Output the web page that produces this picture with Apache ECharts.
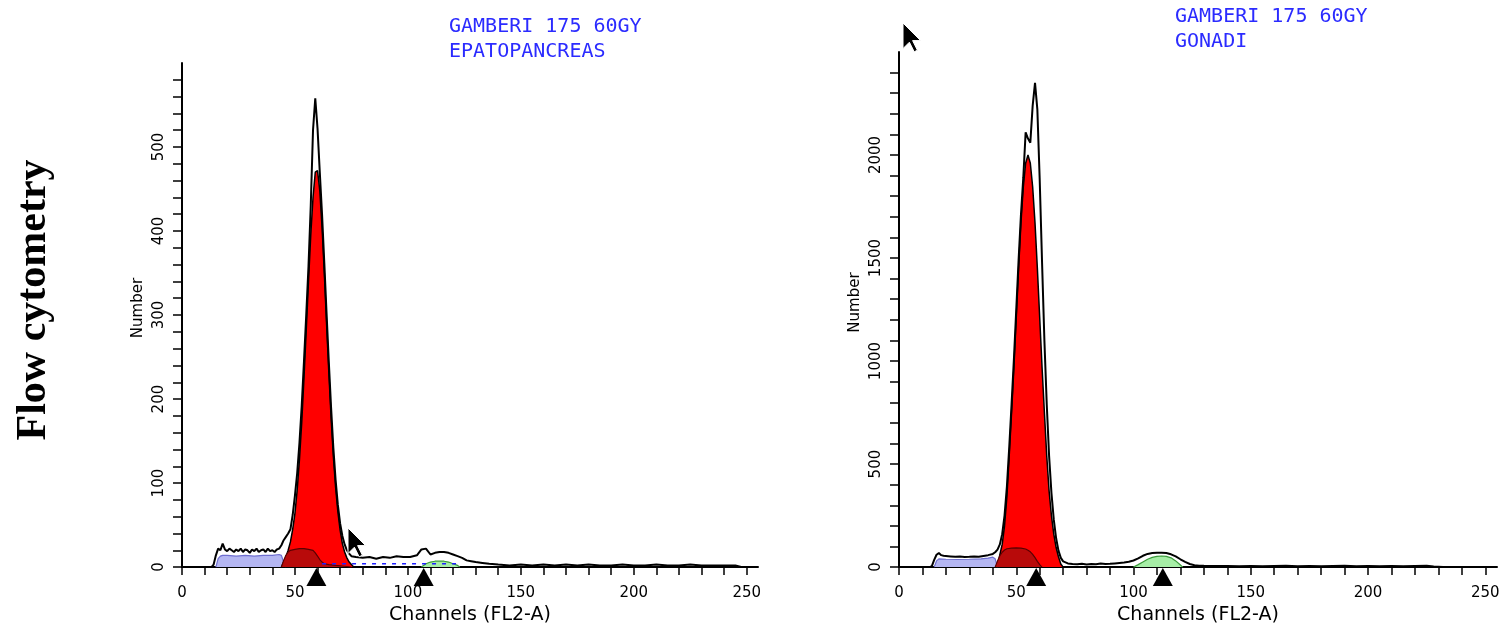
<!DOCTYPE html>
<html>
<head>
<meta charset="utf-8">
<script src="https://cdn.jsdelivr.net/npm/echarts@6/dist/echarts.min.js"></script>
<style>
html,body{margin:0;padding:0;background:#fff;}
#chart{width:1505px;height:630px;}
</style>
</head>
<body>
<div id="chart"></div>
<script>
// ---------- DATA ----------
var xTickValues = [0, 50, 100, 150, 200, 250];
var leftYTicks = [0, 100, 200, 300, 400, 500];
var rightYTicks = [0, 500, 1000, 1500, 2000];

var leftTitle = 'GAMBERI 175 60GY\nEPATOPANCREAS';
var rightTitle = 'GAMBERI 175 60GY\nGONADI';

// Left panel (EPATOPANCREAS): [channel, count]
var leftRaw = [[13,0],[14,3],[15,14],[16,22],[17,20],[18,28],[19,21],[20,19],[21,22],[22,20],[23,18],[24,21],[25,19],[26,22],[27,18],[28,21],[29,20],[30,17],[31,21],[32,19],[33,22],[34,18],[35,20],[36,21],[37,18],[38,22],[39,19],[40,20],[41,18],[42,21],[43,22],[44,26],[45,32],[46,36],[47,40],[48,45],[49,62],[50,85],[51,112],[52,148],[53,192],[54,245],[55,300],[56,358],[57,430],[58,520],[59,558],[60,522],[61,470],[62,420],[63,362],[64,302],[65,244],[66,190],[67,142],[68,104],[69,74],[70,52],[71,37],[72,27],[73,20],[74,16],[75,13],[77,12],[80,11],[83,12],[86,10],[89,12],[92,11],[95,13],[98,12],[101,12],[104,14],[106,21],[108,22],[110,15],[112,17],[114,18],[116,18],[118,17],[120,15],[122,13],[124,11],[126,8],[128,7],[130,6],[133,5],[136,4],[140,3],[145,2],[150,3],[155,2],[160,3],[165,2],[170,3],[175,2],[180,3],[185,2],[190,2],[195,3],[200,2],[205,2],[210,3],[215,2],[220,2],[225,3],[230,2],[235,2],[240,2],[245,2],[248,0]];
var leftG1 = [[44,0],[45,6],[46,12],[47,20],[48,30],[49,45],[50,64],[51,92],[52,128],[53,172],[54,225],[55,282],[56,340],[57,395],[58,440],[59,470],[60,472],[61,448],[62,405],[63,350],[64,290],[65,232],[66,178],[67,132],[68,95],[69,66],[70,44],[71,28],[72,18],[73,11],[74,6],[75,3],[76,0]];
var leftDarkRed = [[44,0],[45,8],[46,14],[47,18],[48,20],[50,21],[52,22],[54,22],[56,21],[58,20],[59,17],[60,13],[61,9],[62,6],[63,4],[65,3],[68,2],[72,1],[75,0]];
var leftDebris = [[15,0],[16,10],[17,13],[18,14],[20,14],[24,13],[28,14],[32,13],[36,14],[40,14],[43,15],[44,14],[45,6],[46,0]];
var leftG2 = [[106,0],[108,4],[110,6],[112,7],[114,7],[116,7],[118,6],[120,4],[122,2],[123,0]];
var leftS = [[62,4],[122,4]];
var leftMarkers = [59.5, 107];

// Right panel (GONADI): [channel, count]
var rightRaw = [[13,0],[14,5],[15,35],[16,60],[17,68],[18,58],[19,55],[20,54],[22,52],[24,50],[26,51],[28,49],[30,50],[32,52],[34,50],[36,54],[38,58],[40,64],[41,72],[42,85],[43,110],[44,160],[45,250],[46,390],[47,580],[48,790],[49,1010],[50,1250],[51,1490],[52,1710],[53,1890],[54,2110],[55,2080],[56,2060],[57,2240],[58,2350],[59,2220],[60,1880],[61,1480],[62,1100],[63,790],[64,540],[65,360],[66,230],[67,140],[68,80],[69,45],[70,28],[72,18],[74,15],[76,14],[78,16],[80,13],[82,15],[84,14],[86,17],[88,15],[90,16],[92,18],[94,20],[96,22],[98,26],[100,32],[102,42],[104,55],[106,64],[108,68],[110,70],[112,70],[114,68],[116,62],[118,52],[120,38],[122,25],[124,15],[126,9],[128,7],[130,6],[135,5],[140,5],[145,4],[150,5],[155,4],[160,5],[165,6],[170,4],[175,5],[180,4],[185,5],[190,6],[195,4],[200,5],[205,4],[210,5],[215,4],[220,5],[225,6],[228,3],[232,0]];
var rightG1 = [[42,0],[43,60],[44,110],[45,200],[46,340],[47,540],[48,750],[49,970],[50,1210],[51,1450],[52,1670],[53,1845],[54,1960],[55,2000],[56,1960],[57,1845],[58,1670],[59,1450],[60,1210],[61,970],[62,750],[63,540],[64,370],[65,250],[66,160],[67,95],[68,50],[69,15],[70,0]];
var rightDarkRed = [[41,0],[42,30],[43,55],[44,72],[45,83],[46,89],[48,92],[50,93],[52,92],[54,88],[55,82],[56,74],[57,62],[58,46],[59,28],[60,12],[61,0]];
var rightDebris = [[15,0],[16,30],[17,40],[20,38],[25,37],[30,38],[35,40],[38,44],[40,48],[41,40],[42,0]];
var rightG2 = [[100,0],[102,12],[104,25],[106,38],[108,47],[110,52],[112,54],[114,52],[116,45],[118,30],[120,10],[121,0]];
var rightMarkers = [58.5, 112.5];

// ---------- CHART ----------
var chart = echarts.init(document.getElementById('chart'), null, {renderer: 'canvas'});
var FONT = 'DejaVu Sans';
var BLACK = '#000';
function plain(v) { return String(v); }

function xAxisCfg(gi) {
  return {
    type: 'value', gridIndex: gi, min: 0, max: 255, interval: 50,
    name: 'Channels (FL2-A)', nameLocation: 'middle', nameGap: 31,
    nameTextStyle: {fontFamily: FONT, fontSize: 19, color: BLACK},
    axisLine: {show: true, onZero: false, lineStyle: {color: BLACK, width: 2}},
    axisTick: {show: true, inside: false, length: 8, customValues: xTickValues, lineStyle: {color: BLACK, width: 1.5}},
    minorTick: {show: true, splitNumber: 5, length: 8, lineStyle: {color: BLACK, width: 1.5}},
    axisLabel: {show: true, customValues: xTickValues, margin: 19, fontFamily: FONT, fontSize: 15, color: BLACK, formatter: plain},
    splitLine: {show: false}, minorSplitLine: {show: false}
  };
}
function yAxisCfg(gi, max, interval, ticks) {
  return {
    type: 'value', gridIndex: gi, min: 0, max: max, interval: interval,
    name: 'Number', nameLocation: 'middle', nameGap: 36, nameRotate: 90,
    nameTextStyle: {fontFamily: FONT, fontSize: 15, color: BLACK, padding: [0, 0, 0, 14]},
    axisLine: {show: true, lineStyle: {color: BLACK, width: 2}},
    axisTick: {show: true, inside: false, length: 9, customValues: ticks, lineStyle: {color: BLACK, width: 1.5}},
    minorTick: {show: true, splitNumber: 5, length: 9, lineStyle: {color: BLACK, width: 1.5}},
    axisLabel: {show: true, customValues: ticks, rotate: 90, margin: 15, fontFamily: FONT, fontSize: 15, color: BLACK, formatter: plain},
    splitLine: {show: false}, minorSplitLine: {show: false}
  };
}
function area(idx, data, fill, z, stroke) {
  return {
    type: 'line', xAxisIndex: idx, yAxisIndex: idx, data: data, z: z,
    showSymbol: false, symbol: 'none', smooth: false, silent: true,
    lineStyle: {color: stroke || BLACK, width: stroke ? 1.2 : 1.5},
    areaStyle: {color: fill, opacity: 1}
  };
}
function rawLine(idx, data) {
  return {
    type: 'line', xAxisIndex: idx, yAxisIndex: idx, data: data, z: 6,
    showSymbol: false, symbol: 'none', smooth: false, silent: true,
    lineStyle: {color: BLACK, width: 2}
  };
}
function markers(idx, chans) {
  return {
    type: 'scatter', xAxisIndex: idx, yAxisIndex: idx, z: 8, clip: false, silent: true,
    data: chans.map(function (c) { return [c, 0]; }),
    symbol: 'triangle', symbolSize: [20, 18], symbolOffset: [0, 10],
    itemStyle: {color: BLACK, opacity: 1}
  };
}
function cursor(x, y) {
  var s = 1.6;
  var pts = [[0,0],[0,16],[4,12],[7,18],[9,17],[6,11],[11,11]].map(function (p) { return [x + p[0]*s, y + p[1]*s]; });
  return {type: 'polygon', shape: {points: pts}, style: {fill: '#000', stroke: '#fff', lineWidth: 1}, z: 100};
}

var option = {
  animation: false,
  backgroundColor: '#fff',
  title: [
    {text: leftTitle, left: 444, top: 9, textStyle: {fontFamily: 'DejaVu Sans Mono', fontSize: 20, fontWeight: 'normal', color: '#2b2bff', lineHeight: 25}},
    {text: rightTitle, left: 1170, top: -1, textStyle: {fontFamily: 'DejaVu Sans Mono', fontSize: 20, fontWeight: 'normal', color: '#2b2bff', lineHeight: 25}}
  ],
  grid: [
    {left: 182, top: 63, width: 576, height: 509, containLabel: false},
    {left: 899, top: 52, width: 598, height: 526, containLabel: false}
  ],
  xAxis: [xAxisCfg(0), xAxisCfg(1)],
  yAxis: [yAxisCfg(0, 600, 100, leftYTicks), yAxisCfg(1, 2500, 500, rightYTicks)],
  series: [
    area(0, leftDebris, '#b4b6f2', 2, '#6e6ed0'),
    area(0, leftG1, '#ff0000', 3),
    area(0, leftDarkRed, '#b80a0a', 4, '#5a0000'),
    area(0, leftG2, '#a6eea6', 4, '#3a9a3a'),
    {type: 'line', xAxisIndex: 0, yAxisIndex: 0, data: leftS, z: 5, showSymbol: false, symbol: 'none', silent: true,
     lineStyle: {color: '#2020ff', width: 1.5, type: [4, 6]}},
    rawLine(0, leftRaw),
    markers(0, leftMarkers),

    area(1, rightDebris, '#b4b6f2', 2, '#6e6ed0'),
    area(1, rightG1, '#ff0000', 3),
    area(1, rightDarkRed, '#b80a0a', 4, '#5a0000'),
    area(1, rightG2, '#a6eea6', 4, '#3a9a3a'),
    rawLine(1, rightRaw),
    markers(1, rightMarkers)
  ],
  graphic: [
    {type: 'text', x: 34, y: 300, rotation: Math.PI / 2,
     style: {text: 'Flow cytometry', font: 'bold 42px "Liberation Serif", "Times New Roman", serif', fill: '#000', textAlign: 'center', textVerticalAlign: 'middle'}},
    cursor(348, 528),
    cursor(903, 23)
  ]
};
chart.setOption(option);
</script>
</body>
</html>
